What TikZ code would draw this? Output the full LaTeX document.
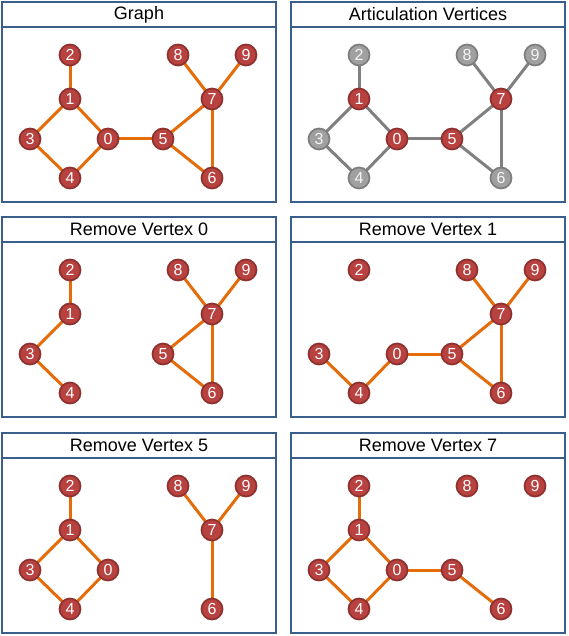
\documentclass[tikz,border=0pt]{standalone}
\usepackage{fontspec}
\setmainfont{Liberation Sans}
\usetikzlibrary{positioning,backgrounds}
\definecolor{frameblue}{RGB}{58,95,140}
\definecolor{vertexred}{RGB}{184,66,64}
\definecolor{vertexrim}{RGB}{142,48,46}
\definecolor{edgeorange}{RGB}{228,108,10}
\definecolor{vertexgray}{RGB}{160,160,160}
\definecolor{rimgray}{RGB}{125,125,125}
\definecolor{edgegray}{RGB}{128,128,128}
\tikzset{
panel/.style={draw=frameblue,line width=2pt},
titlebar/.style={draw=frameblue,line width=2pt,minimum width=274pt,
minimum height=25pt,inner sep=0pt,font=\fontsize{18}{20}\selectfont},
vertex/.style={circle,draw=vertexrim,fill=vertexred,line width=1.7pt,
minimum size=21pt,inner sep=0pt,text=white,font=\fontsize{16}{16}\selectfont},
grayvertex/.style={vertex,draw=rimgray,fill=vertexgray,text=white!92!gray},
link/.style={draw=edgeorange,line width=3pt},
graylink/.style={link,draw=edgegray},
}
% vertex positions of one panel, measured from its top left corner
\newcommand{\vertexgrid}[1]{%
  \foreach \v/\vx/\vy in {0/108/139,1/70/99,2/70/55,3/30/139,4/70/178,
    5/163/139,6/212/178,7/212/99,8/178/55,9/246/55}
    {\coordinate (#1p\v) at (\vx,\vy);}}
\newcommand{\panelbox}[2]{%
  \draw[panel] (2,2) rectangle (276,202);
  \node[titlebar] (#1title) at (139,14.5) {#2};}

\begin{document}
\begin{tikzpicture}[x=1pt,y=-1pt]
\useasboundingbox (0,0) rectangle (568,636);

% Graph
\begin{scope}
  \panelbox{a}{Graph}
  \vertexgrid{a}
  \foreach \v in {0,...,9} \node[vertex] (a\v) at (ap\v) {\v};
  \begin{scope}[on background layer]
    \foreach \s/\t in {2/1,1/3,1/0,3/4,4/0,0/5,5/7,5/6,7/6,7/8,7/9}
      \draw[link] (a\s.center) -- (a\t.center);
  \end{scope}
\end{scope}

% Articulation vertices
\begin{scope}[shift={(289,0)}]
  \panelbox{b}{Articulation Vertices}
  \vertexgrid{b}
  \foreach \v in {2,3,4,6,8,9} \node[grayvertex] (b\v) at (bp\v) {\v};
  \foreach \v in {0,1,5,7} \node[vertex] (b\v) at (bp\v) {\v};
  \begin{scope}[on background layer]
    \foreach \s/\t in {2/1,1/3,1/0,3/4,4/0,0/5,5/7,5/6,7/6,7/8,7/9}
      \draw[graylink] (b\s.center) -- (b\t.center);
  \end{scope}
\end{scope}

% Remove vertex 0
\begin{scope}[shift={(0,215)}]
  \panelbox{c}{Remove Vertex 0}
  \vertexgrid{c}
  \foreach \v in {1,...,9} \node[vertex] (c\v) at (cp\v) {\v};
  \begin{scope}[on background layer]
    \foreach \s/\t in {2/1,1/3,3/4,5/7,5/6,7/6,7/8,7/9}
      \draw[link] (c\s.center) -- (c\t.center);
  \end{scope}
\end{scope}

% Remove vertex 1
\begin{scope}[shift={(289,215)}]
  \panelbox{d}{Remove Vertex 1}
  \vertexgrid{d}
  \foreach \v in {0,2,3,4,5,6,7,8,9} \node[vertex] (d\v) at (dp\v) {\v};
  \begin{scope}[on background layer]
    \foreach \s/\t in {3/4,4/0,0/5,5/7,5/6,7/6,7/8,7/9}
      \draw[link] (d\s.center) -- (d\t.center);
  \end{scope}
\end{scope}

% Remove vertex 5
\begin{scope}[shift={(0,431)}]
  \panelbox{e}{Remove Vertex 5}
  \vertexgrid{e}
  \foreach \v in {0,1,2,3,4,6,7,8,9} \node[vertex] (e\v) at (ep\v) {\v};
  \begin{scope}[on background layer]
    \foreach \s/\t in {2/1,1/3,1/0,3/4,4/0,7/6,7/8,7/9}
      \draw[link] (e\s.center) -- (e\t.center);
  \end{scope}
\end{scope}

% Remove vertex 7
\begin{scope}[shift={(289,431)}]
  \panelbox{f}{Remove Vertex 7}
  \vertexgrid{f}
  \foreach \v in {0,1,2,3,4,5,6,8,9} \node[vertex] (f\v) at (fp\v) {\v};
  \begin{scope}[on background layer]
    \foreach \s/\t in {2/1,1/3,1/0,3/4,4/0,0/5,5/6}
      \draw[link] (f\s.center) -- (f\t.center);
  \end{scope}
\end{scope}
\end{tikzpicture}
\end{document}
